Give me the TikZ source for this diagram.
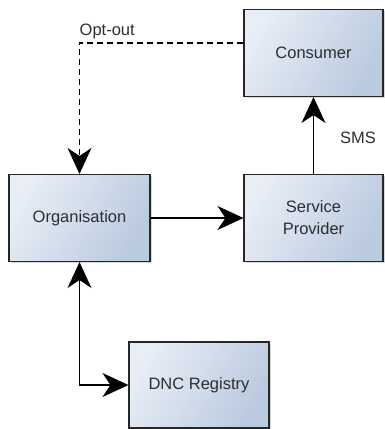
\documentclass[tikz,border=0pt]{standalone}
\usepackage{fontspec}
\setmainfont{Liberation Sans}
\usetikzlibrary{arrows.meta,shadows}
\definecolor{boxlight}{HTML}{E8EDF6}
\definecolor{boxdark}{HTML}{BACADF}
\definecolor{txt}{HTML}{2E2E2E}
\tikzset{
  conn/.style={line width=1.1pt, -{Stealth[length=26pt,width=24pt,inset=8pt]}},
  bidir/.style={line width=1.1pt, {Stealth[length=26pt,width=24pt,inset=8pt]}-{Stealth[length=26pt,width=24pt,inset=8pt]}}}
\begin{document}
\begin{tikzpicture}[x=1pt,y=-1pt,
  box/.style={draw=black!85, line width=1.1pt, left color=boxlight, right color=boxdark, shading angle=60,
    minimum width=139pt, minimum height=87pt, inner sep=0pt, align=center,
    text=txt, font=\fontsize{16.5}{22}\selectfont,
    drop shadow={shadow xshift=1.5pt, shadow yshift=-1.5pt, opacity=0.25, fill=black!60}},
  lbl/.style={text=txt, font=\fontsize{16.5}{20}\selectfont, inner sep=0pt}]
\useasboundingbox[fill=white] (0,0) rectangle (384,429);
\node[box] (cons) at (313.5,53) {Consumer};
\node[box] (sp) at (313.5,218) {Service\\Provider};
\node[box, minimum width=141pt] (org) at (79.5,218) {Organisation};
\node[box, minimum width=140pt, minimum height=86pt] (dnc) at (199,385) {DNC Registry};
\draw[conn, dash pattern=on 6pt off 4pt] ([yshift=10pt]cons.west) -| (org.north);
\node[lbl, anchor=base west] (optout) at (79.5,35) {Opt-out};
\draw[conn] (sp.north) -- (cons.south);
\node[lbl, anchor=base west] (sms) at (340,143) {SMS};
\draw[conn] (org.east) -- (sp.west);
\draw[bidir] (org.south) |- (dnc.west);
\end{tikzpicture}
\end{document}
